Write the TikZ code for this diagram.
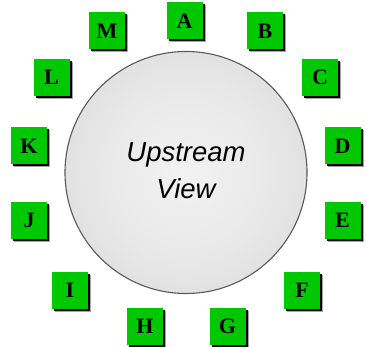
\documentclass[tikz,border=0pt]{standalone}
\usepackage{fontspec}
\setmainfont{Liberation Serif}
\newfontfamily\viewfont{Liberation Sans}
\usetikzlibrary{shadows}
\definecolor{boxgreen}{RGB}{0,200,0}
\pgfdeclareradialshading{ballshade}{\pgfpoint{0bp}{0bp}}{%
  color(0bp)=(white!95!black);
  color(18bp)=(white!91!black);
  color(34bp)=(white!85!black);
  color(44bp)=(white!78!black);
  color(50bp)=(white!70!black)}
\begin{document}
\begin{tikzpicture}[x=1pt,y=-1pt,
  letterbox/.style={fill=boxgreen, minimum width=36pt, minimum height=37pt,
    inner sep=0pt, outer sep=0pt,
    general shadow={fill=black!35, shadow xshift=3pt, shadow yshift=-3pt},
    general shadow={fill=black, shadow xshift=2pt, shadow yshift=-2pt},
    font=\fontsize{22}{22}\selectfont\bfseries},
  viewtext/.style={font=\viewfont\itshape\fontsize{27.5}{30}\selectfont, inner sep=0pt}]
\useasboundingbox (0,0) rectangle (366,347);
\fill[white] (0,0) rectangle (366,347);
\node[circle, minimum size=242pt, inner sep=0pt, shading=ballshade,
  draw=black!65, line width=1.1pt] (ball) at (186,172.5) {};
\node[viewtext, anchor=base] (up) at (186,162) {Upstream};
\node[viewtext, anchor=base] (view) at (186,198) {View};
\node[letterbox] (A) at (184.5,21) {A};
\node[letterbox] (B) at (265,31) {B};
\node[letterbox] (C) at (320,77.5) {C};
\node[letterbox] (D) at (342.5,146) {D};
\node[letterbox] (E) at (342.5,220) {E};
\node[letterbox] (F) at (302,290) {F};
\node[letterbox] (G) at (227.5,326) {G};
\node[letterbox] (H) at (145,326) {H};
\node[letterbox] (I) at (70,290) {I};
\node[letterbox] (J) at (29,220) {J};
\node[letterbox] (K) at (29,146) {K};
\node[letterbox] (L) at (51.5,77.5) {L};
\node[letterbox] (M) at (107,31) {M};
\end{tikzpicture}
\end{document}
